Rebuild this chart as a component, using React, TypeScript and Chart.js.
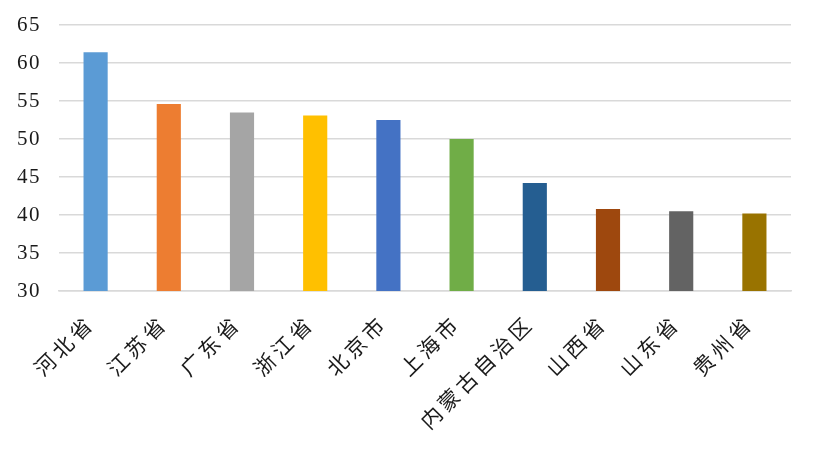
import React, { useEffect, useRef } from "react";
import { Chart, registerables } from "chart.js";

Chart.register(...registerables);

const provinces = ["河北省", "江苏省", "广东省", "浙江省", "北京市", "上海市", "内蒙古自治区", "山西省", "山东省", "贵州省"];
const values = [61.4, 54.6, 53.5, 53.1, 52.5, 50.0, 44.2, 40.8, 40.5, 40.2];
const barColors = ["#5B9BD5", "#ED7D31", "#A5A5A5", "#FFC000", "#4472C4", "#70AD47", "#255E91", "#9E480E", "#636363", "#997300"];
const yMin = 30;
const yMax = 65;
const yStep = 5;

// the source chart spaces its glyphs out a little; set canvas letterSpacing per axis
const spacingPlugin = {
  id: "spacing",
  beforeDraw(chart: Chart) {
    (chart.ctx as any).letterSpacing = "1.5px";
  },
  afterDatasetsDraw(chart: Chart) {
    (chart.ctx as any).letterSpacing = "4px";
  },
  afterDraw(chart: Chart) {
    (chart.ctx as any).letterSpacing = "0px";
  },
};

function App(): JSX.Element {
  const chartRef = useRef<HTMLCanvasElement | null>(null);
  const chartInstance = useRef<Chart<"bar"> | null>(null);

  useEffect(() => {
    document.body.style.margin = "0";
    if (!chartRef.current) return;
    if (chartInstance.current) chartInstance.current.destroy();

    chartInstance.current = new Chart(chartRef.current, {
      type: "bar",
      data: {
        labels: provinces,
        datasets: [
          {
            data: values,
            backgroundColor: barColors,
            borderWidth: 0,
            categoryPercentage: 0.33,
            barPercentage: 1,
          },
        ],
      },
      options: {
        responsive: false,
        animation: false,
        layout: { padding: { top: 25, right: 22, left: 17, bottom: 0 } },
        plugins: {
          legend: { display: false },
          tooltip: { enabled: false },
        },
        scales: {
          x: {
            grid: { display: false },
            border: { color: "#d9d9d9", width: 1.5 },
            ticks: {
              minRotation: 45,
              maxRotation: 45,
              autoSkip: false,
              padding: 11,
              labelOffset: -5,
              z: 1,
              color: "#1a1a1a",
              font: { family: "'Noto Sans CJK SC'", size: 21 },
            },
            afterFit: (scale) => {
              scale.height = 169;
            },
          },
          y: {
            min: yMin,
            max: yMax,
            border: { display: false },
            grid: { color: "#d9d9d9", lineWidth: 1.5, drawTicks: false },
            ticks: {
              stepSize: yStep,
              padding: 0,
              crossAlign: "far",
              color: "#1a1a1a",
              font: { family: "'Liberation Serif'", size: 21 },
            },
            afterFit: (scale) => {
              scale.width = 42;
            },
          },
        },
      },
      plugins: [spacingPlugin],
    });

    return () => {
      if (chartInstance.current) {
        chartInstance.current.destroy();
        chartInstance.current = null;
      }
    };
  }, []);

  return (
    <div style={{ width: 813, height: 460, background: "#fff" }}>
      <canvas ref={chartRef} width={813} height={460}></canvas>
    </div>
  );
}

export default App;
